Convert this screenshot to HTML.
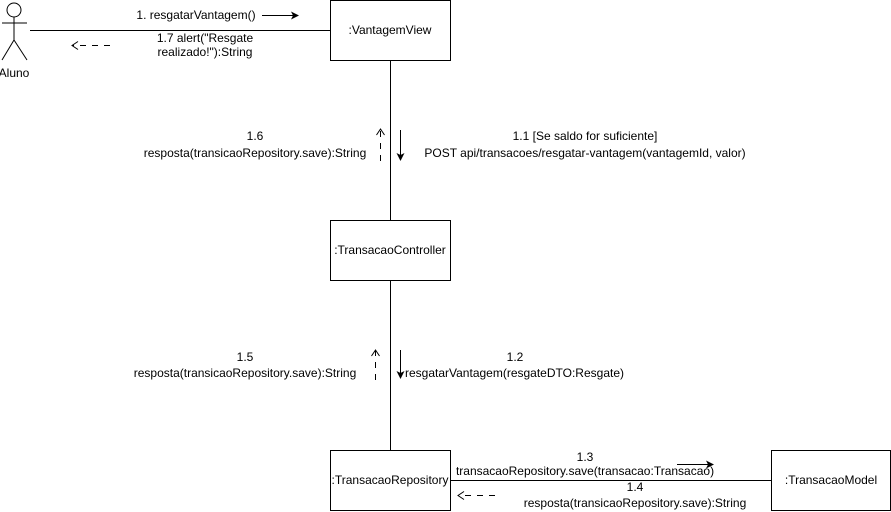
<!DOCTYPE html>
<html><head><meta charset="utf-8"><style>
body{margin:0;background:#fff}
svg{display:block}
text{font-family:"Liberation Sans",Arial,sans-serif;font-size:12px;fill:#000}
</style></head><body>
<svg width="891" height="512" viewBox="0 0 891 512" xmlns="http://www.w3.org/2000/svg">
<defs>
<marker id="f" markerWidth="8" markerHeight="8" refX="7" refY="4" orient="auto" markerUnits="userSpaceOnUse"><path d="M0,0 L8,4 L0,8 L2,4 Z" fill="#000"/></marker>
<marker id="o" markerWidth="8" markerHeight="10" refX="7" refY="5" orient="auto" markerUnits="userSpaceOnUse"><path d="M1,1 L7,5 L1,9" fill="none" stroke="#000"/></marker>
</defs>
<g stroke="#000" fill="none" stroke-width="1">
<!-- actor -->
<circle cx="14" cy="10" r="7"/>
<line x1="14" y1="17" x2="14" y2="40"/>
<line x1="2" y1="23" x2="27" y2="23"/>
<line x1="14" y1="40" x2="2" y2="60"/>
<line x1="14" y1="40" x2="27" y2="60"/>
<!-- lines -->
<line x1="30" y1="30.5" x2="330" y2="30.5"/>
<line x1="390.5" y1="60" x2="390.5" y2="220"/>
<line x1="390.5" y1="280" x2="390.5" y2="450"/>
<line x1="450" y1="480.5" x2="771" y2="480.5"/>
<!-- boxes -->
<rect x="330.5" y="0.5" width="120" height="60"/>
<rect x="330.5" y="220.5" width="120" height="60"/>
<rect x="330.5" y="450.5" width="120" height="60"/>
<rect x="771.5" y="450.5" width="119" height="60"/>
<!-- arrows -->
<line x1="262" y1="15.5" x2="298" y2="15.5" marker-end="url(#f)"/>
<line x1="110" y1="45.5" x2="72" y2="45.5" stroke-dasharray="6,6" marker-end="url(#o)"/>
<line x1="380.5" y1="161" x2="380.5" y2="129" stroke-dasharray="6,6" marker-end="url(#o)"/>
<line x1="400.5" y1="130" x2="400.5" y2="160" marker-end="url(#f)"/>
<line x1="375.5" y1="380" x2="375.5" y2="350" stroke-dasharray="6,6" marker-end="url(#o)"/>
<line x1="400.5" y1="350" x2="400.5" y2="378" marker-end="url(#f)"/>
<line x1="677" y1="464.5" x2="713" y2="464.5" marker-end="url(#f)"/>
<line x1="495" y1="495.5" x2="458" y2="495.5" stroke-dasharray="6,6" marker-end="url(#o)"/>
</g>
<text x="14" y="77" text-anchor="middle">Aluno</text>
<text x="390" y="34" text-anchor="middle">:VantagemView</text>
<text x="390" y="254" text-anchor="middle">:TransacaoController</text>
<text x="390" y="484" text-anchor="middle">:TransacaoRepository</text>
<text x="831" y="484" text-anchor="middle">:TransacaoModel</text>
<text x="196" y="19" text-anchor="middle">1. resgatarVantagem()</text>
<text x="205" y="42" text-anchor="middle">1.7 alert("Resgate</text>
<text x="205" y="56" text-anchor="middle">realizado!"):String</text>
<text x="255" y="140" text-anchor="middle">1.6</text>
<text x="255" y="157" text-anchor="middle">resposta(transicaoRepository.save):String</text>
<text x="585" y="140" text-anchor="middle">1.1 [Se saldo for suficiente]</text>
<text x="585" y="157" text-anchor="middle">POST api/transacoes/resgatar-vantagem(vantagemId, valor)</text>
<text x="245" y="361" text-anchor="middle">1.5</text>
<text x="245" y="377" text-anchor="middle">resposta(transicaoRepository.save):String</text>
<text x="515" y="361" text-anchor="middle">1.2</text>
<text x="405" y="377">resgatarVantagem(resgateDTO:Resgate)</text>
<text x="585" y="461" text-anchor="middle">1.3</text>
<text x="585" y="475" text-anchor="middle">transacaoRepository.save(transacao:Transacao)</text>
<text x="635" y="491" text-anchor="middle">1.4</text>
<text x="635" y="507" text-anchor="middle">resposta(transicaoRepository.save):String</text>
</svg>
</body></html>
